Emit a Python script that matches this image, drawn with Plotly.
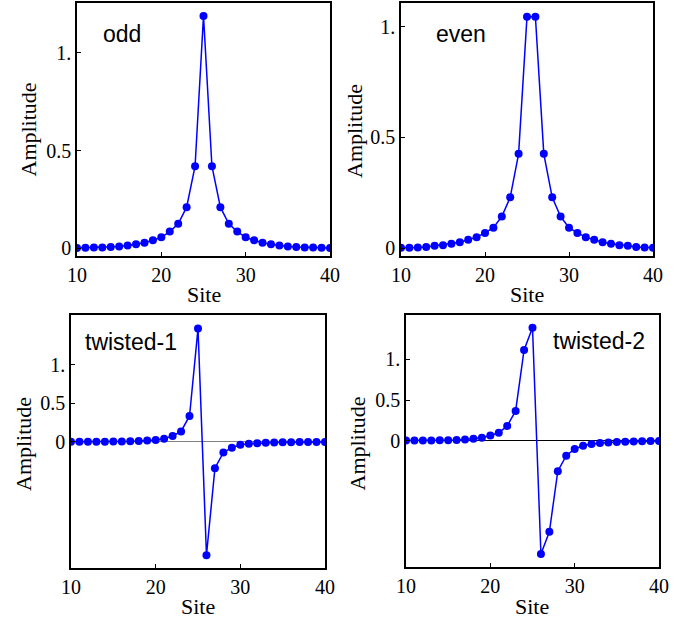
import plotly.graph_objects as go

W, H = 694, 623

sites = list(range(10, 41))

odd_amp = [0.001, 0.002, 0.003, 0.004, 0.006, 0.009, 0.014, 0.020, 0.028, 0.041,
           0.056, 0.085, 0.125, 0.210, 0.420, 1.190, 0.420, 0.210, 0.125, 0.085,
           0.056, 0.041, 0.028, 0.020, 0.014, 0.009, 0.006, 0.004, 0.003, 0.002, 0.001]

even_amp = [0.002, 0.002, 0.003, 0.006, 0.011, 0.014, 0.020, 0.027, 0.038, 0.050,
            0.069, 0.093, 0.143, 0.230, 0.426, 1.045, 1.045, 0.426, 0.230, 0.143,
            0.093, 0.069, 0.050, 0.038, 0.027, 0.020, 0.014, 0.011, 0.006, 0.003, 0.002]

twisted1_amp = [0.001, 0.001, 0.002, 0.002, 0.003, 0.004, 0.006, 0.009, 0.013, 0.018,
                0.026, 0.042, 0.076, 0.135, 0.335, 1.464, -1.464, -0.340, -0.137, -0.075,
                -0.038, -0.024, -0.017, -0.012, -0.009, -0.006, -0.004, -0.003, -0.002, -0.001, -0.001]

twisted2_amp = [0.002, 0.002, 0.003, 0.004, 0.005, 0.007, 0.010, 0.016, 0.024, 0.037,
                0.065, 0.098, 0.182, 0.366, 1.115, 1.388, -1.392, -1.119, -0.374, -0.184,
                -0.102, -0.062, -0.041, -0.029, -0.022, -0.017, -0.013, -0.010, -0.008, -0.005, -0.004]

panel_labels = ["odd", "even", "twisted-1", "twisted-2"]
x_tickvals = [10, 20, 30, 40]
x_ticktext = ["10", "20", "30", "40"]
y_tickvals = [0, 0.5, 1.0]
y_ticktext = ["0", "0.5", "1."]

series = [odd_amp, even_amp, twisted1_amp, twisted2_amp]
yranges = [[-0.04, 1.256], [-0.035, 1.107], [-1.63, 1.64], [-1.551, 1.544]]
frames = [(77, 330, 3, 256), (401, 653, 3, 256), (71, 325, 315, 568), (406, 659, 315, 567)]
zero_colors = [None, None, "#808080", "#000000"]

BLUE = "#0000FF"
serif = "Liberation Serif, Times New Roman, serif"
sans = "Liberation Sans, Arial, sans-serif"

fig = go.Figure()
layout = dict(template="none", width=W, height=H, margin=dict(l=0, r=0, t=0, b=0, pad=0),
              paper_bgcolor="white", plot_bgcolor="white", showlegend=False)

for i, (vals, yr, fr, zc) in enumerate(zip(series, yranges, frames, zero_colors)):
    n = "" if i == 0 else str(i + 1)
    fig.add_trace(go.Scatter(x=sites, y=vals, mode="lines+markers",
                             line=dict(color=BLUE, width=1.5),
                             marker=dict(color=BLUE, size=8),
                             xaxis="x" + n, yaxis="y" + n))
    l, r, t, b = fr
    common = dict(showline=True, linecolor="black", linewidth=1.5, mirror=True,
                  ticks="inside", ticklen=4, tickcolor="black", tickwidth=1,
                  showgrid=False, automargin=False,
                  tickfont=dict(family=serif, size=20, color="black"))
    layout["xaxis" + n] = dict(domain=[l / W, r / W], range=[10, 40], anchor="y" + n,
                               tickvals=x_tickvals, ticktext=x_ticktext, zeroline=False,
                               **common)
    layout["yaxis" + n] = dict(domain=[1 - b / H, 1 - t / H], range=yr, anchor="x" + n,
                               tickvals=y_tickvals, ticktext=y_ticktext,
                               zeroline=zc is not None,
                               zerolinecolor=zc if zc else "black", zerolinewidth=1,
                               **common)

annotations = []
site_pos = [(203.5, 295), (527, 295), (198, 606), (532, 606)]
amp_pos = [(27.5, 130), (354.5, 131.5), (23.5, 443.5), (357, 443.5)]
for (sx, sy) in site_pos:
    annotations.append(dict(text="Site", x=sx / W, y=1 - sy / H, xref="paper", yref="paper",
                            showarrow=False, xanchor="center", yanchor="middle",
                            font=dict(family=serif, size=22, color="black")))
for (ax, ay) in amp_pos:
    annotations.append(dict(text="Amplitude", x=ax / W, y=1 - ay / H, xref="paper", yref="paper",
                            showarrow=False, xanchor="center", yanchor="middle", textangle=-90,
                            font=dict(family=serif, size=22, color="black")))
label_pos = [(101, 34), (434, 34), (83, 342), (551, 341)]
for txt, (lx, ly) in zip(panel_labels, label_pos):
    annotations.append(dict(text=txt, x=lx / W, y=1 - ly / H, xref="paper", yref="paper",
                            showarrow=False, xanchor="left", yanchor="middle",
                            font=dict(family=sans, size=23, color="black")))
layout["annotations"] = annotations

fig.update_layout(**layout)
fig.write_html("out.html", config={"displayModeBar": False},
               post_script="document.body.style.margin='0';document.body.style.overflow='hidden';")
